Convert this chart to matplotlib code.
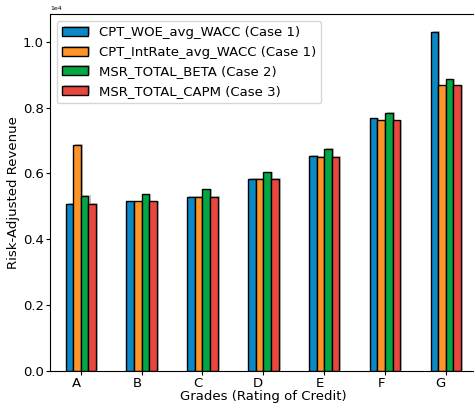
import numpy as np
import matplotlib
matplotlib.use("Agg")
import matplotlib.pyplot as plt
import matplotlib.patheffects as pe

# Values (units of 1e4)
grades = ["A", "B", "C", "D", "E", "F", "G"]
woe_wacc = [0.507, 0.515, 0.529, 0.583, 0.653, 0.767, 1.030]
intrate_wacc = [0.686, 0.515, 0.529, 0.583, 0.650, 0.761, 0.867]
msr_beta = [0.532, 0.536, 0.551, 0.603, 0.675, 0.784, 0.886]
msr_capm = [0.507, 0.515, 0.529, 0.583, 0.650, 0.761, 0.867]

series = [
    ("CPT_WOE_avg_WACC (Case 1)", woe_wacc, "#0a89c6"),
    ("CPT_IntRate_avg_WACC (Case 1)", intrate_wacc, "#fe9427"),
    ("MSR_TOTAL_BETA (Case 2)", msr_beta, "#03a845"),
    ("MSR_TOTAL_CAPM (Case 3)", msr_capm, "#e9473d"),
]

plt.rcParams["font.size"] = 9.5

fig = plt.figure(figsize=(4.74, 4.03), dpi=100)
ax = fig.add_axes([0.1055, 0.080, 0.90, 0.8845])

x = np.arange(len(grades))
width = 0.125
shadow = [pe.SimplePatchShadow(offset=(1.5, 0.5), shadow_rgbFace="gray", alpha=0.45), pe.Normal()]
for i, (name, vals, color) in enumerate(series):
    bars = ax.bar(x + (i - 1.5) * width, np.array(vals) * 1e4, width,
                  color=color, edgecolor="black", linewidth=1, label=name)
    for b in bars:
        b.set_path_effects(shadow)

ax.set_xticks(x)
ax.set_xticklabels(grades, ha="right")
ax.set_xlim(-0.507, 6.507)
ax.set_ylim(0, 1.0833e4)
ax.set_yticks(np.arange(0, 1.01e4, 0.2e4))
ax.tick_params(length=3, pad=1.5)
ax.ticklabel_format(axis="y", style="sci", scilimits=(0, 0))
ax.yaxis.get_offset_text().set_fontsize(4.5)
ax.set_xlabel("Grades (Rating of Credit)", labelpad=0)
ax.set_ylabel("Risk-Adjusted Revenue", labelpad=2)
ax.legend(loc="upper left")

fig.savefig("out.png", dpi=100)
